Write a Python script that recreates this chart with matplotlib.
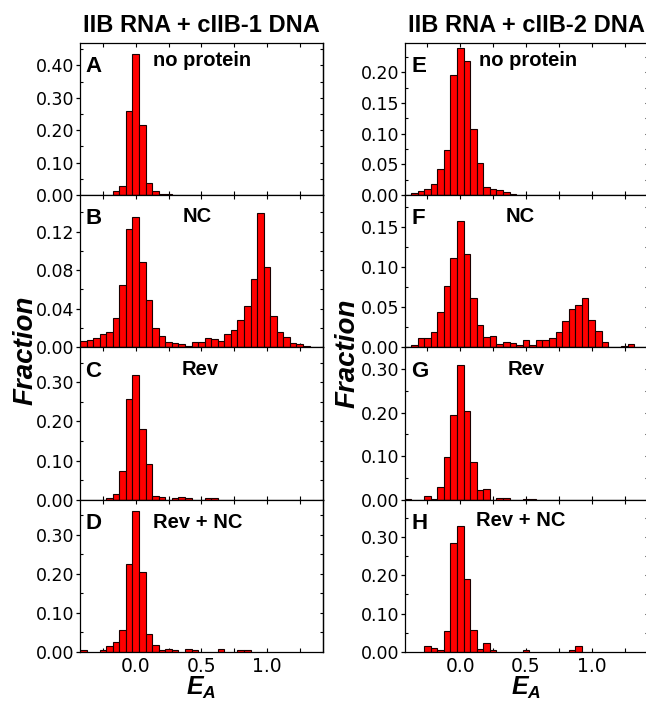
#!/usr/bin/env python3
"""
FRET efficiency histograms (E_A) for two RNA/DNA pairs, four protein
conditions each, stacked in two columns.
"""

import matplotlib

matplotlib.use("Agg")
import matplotlib.pyplot as plt
import matplotlib.ticker as mticker
import numpy as np

# bin centres, 0.05 wide, from -0.40 to 1.35
BIN_CENTERS = np.round(np.arange(-8, 28) * 0.05, 2)

# column 1: IIB RNA + cIIB-1 DNA
FRAC_A = [0, 0, 0, 0, 0, 0.011, 0.028, 0.258, 0.436, 0.215, 0.036, 0.011,
          0.003, 0.002] + [0] * 22
FRAC_B = [0.007, 0.0076, 0.0093, 0.0135, 0.0156, 0.030, 0.065, 0.123, 0.135,
          0.089, 0.049, 0.020, 0.012, 0.006, 0.004, 0.003, 0.0015, 0.006,
          0.006, 0.010, 0.009, 0.007, 0.0135, 0.018, 0.028, 0.043, 0.071,
          0.139, 0.083, 0.032, 0.016, 0.011, 0.0045, 0.003, 0.0015, 0]
FRAC_C = [0, 0, 0, 0, 0.003, 0.015, 0.074, 0.257, 0.320, 0.180, 0.092, 0.010,
          0.007, 0, 0.003, 0.007, 0.003, 0, 0, 0.003, 0.003] + [0] * 15
FRAC_D = [0.004, 0, 0, 0.004, 0.014, 0.026, 0.055, 0.225, 0.361, 0.204,
          0.046, 0.017, 0.005, 0.008, 0.005, 0, 0.008, 0.005, 0, 0, 0,
          0.008, 0, 0, 0.005, 0.005] + [0] * 10

# column 2: IIB RNA + cIIB-2 DNA
FRAC_E = [0, 0.003, 0.006, 0.0098, 0.018, 0.042, 0.073, 0.195, 0.240, 0.218,
          0.107, 0.052, 0.0125, 0.0103, 0.008, 0.0043, 0.002] + [0] * 19
FRAC_F = [0, 0.003, 0.011, 0.011, 0.019, 0.044, 0.076, 0.111, 0.158, 0.117,
          0.062, 0.028, 0.0125, 0.014, 0.004, 0.0067, 0.005, 0.0033, 0.009,
          0.003, 0.0096, 0.0096, 0.012, 0.019, 0.0325, 0.048, 0.053, 0.062,
          0.034, 0.020, 0.0067, 0, 0, 0.002, 0.004, 0]
FRAC_G = [0.002, 0, 0, 0.008, 0.0015, 0.028, 0.098, 0.195, 0.310, 0.204,
          0.087, 0.022, 0.024, 0, 0.004, 0.004, 0, 0, 0.002, 0.002] + [0] * 16
FRAC_H = [0, 0, 0, 0.015, 0.009, 0.004, 0.054, 0.283, 0.328, 0.189, 0.058,
          0.008, 0.022, 0.004, 0, 0, 0, 0, 0.004, 0, 0, 0, 0, 0, 0, 0.004,
          0.015] + [0] * 9

COLUMN_TITLES = ["IIB RNA + cIIB-1 DNA", "IIB RNA + cIIB-2 DNA"]
LETTERS = [["A", "B", "C", "D"], ["E", "F", "G", "H"]]
CONDITIONS = ["no protein", "NC", "Rev", "Rev + NC"]
DATA = [[FRAC_A, FRAC_B, FRAC_C, FRAC_D], [FRAC_E, FRAC_F, FRAC_G, FRAC_H]]
YTOP = [[0.47, 0.158, 0.39, 0.39], [0.248, 0.19, 0.35, 0.397]]
YSTEP = [[0.1, 0.04, 0.1, 0.1], [0.05, 0.05, 0.1, 0.1]]

# (x in data coords, horizontal alignment, y in axes fraction)
LABEL_POS = [
    [(0.13, "left", 0.848), (0.47, "center", 0.826), (0.49, "center", 0.815), (0.13, "left", 0.812)],
    [(0.14, "left", 0.848), (0.455, "center", 0.826), (0.50, "center", 0.815), (0.12, "left", 0.826)],
]

W, H = 646, 702
SANS = ["Liberation Sans", "DejaVu Sans"]

plt.rcParams["font.family"] = SANS
plt.rcParams["mathtext.fontset"] = "custom"
plt.rcParams["mathtext.it"] = "Liberation Sans:italic:bold"
plt.rcParams["mathtext.rm"] = "Liberation Sans:bold"


def draw_panel(ax, col, row):
    heights = np.array(DATA[col][row], dtype=float)
    keep = heights > 0
    ax.bar(BIN_CENTERS[keep], heights[keep], width=0.05, align="center",
           color="#ff0000", edgecolor="#1a0000", linewidth=0.8, zorder=2)

    ax.set_xlim(-0.425, 1.425)
    ax.set_ylim(0, YTOP[col][row])

    step = YSTEP[col][row]
    ax.yaxis.set_major_locator(mticker.MultipleLocator(step))
    ax.yaxis.set_minor_locator(mticker.MultipleLocator(step / 2))
    ax.yaxis.set_major_formatter(mticker.FormatStrFormatter("%.2f"))
    ax.xaxis.set_major_locator(mticker.MultipleLocator(0.5))
    ax.xaxis.set_minor_locator(mticker.MultipleLocator(0.25))
    ax.xaxis.set_major_formatter(mticker.FormatStrFormatter("%.1f"))

    ax.tick_params(axis="y", which="major", direction="out", length=3, width=0.9,
                   pad=1, labelsize=12.5, labelfontfamily="DejaVu Sans")
    ax.tick_params(axis="y", which="minor", direction="in", length=2.5, width=0.8)
    ax.tick_params(axis="x", which="both", direction="in", top=True, length=3.2,
                   width=0.8, pad=4, labelsize=13.5, labelfontfamily="DejaVu Sans")
    if row < 3:
        ax.tick_params(axis="x", labelbottom=False)

    # inward ticks on the right-hand spine
    sec = ax.secondary_yaxis("right")
    sec.yaxis.set_major_locator(mticker.MultipleLocator(step / 2))
    sec.tick_params(direction="in", length=2.5, width=0.8, labelright=False)
    sec.spines["right"].set_linewidth(0.9)

    for sp in ax.spines.values():
        sp.set_linewidth(0.9)

    lx = 0.021 if col == 0 else 0.029
    ax.text(lx, 0.808, LETTERS[col][row], transform=ax.transAxes,
            fontsize=16, fontweight="bold", va="baseline", ha="left")
    tx, ha, ty = LABEL_POS[col][row]
    ax.text(tx, ty, CONDITIONS[row], transform=ax.get_xaxis_transform(),
            fontsize=14.5, fontweight="bold", va="baseline", ha=ha)


def main():
    fig = plt.figure(figsize=(W / 100, H / 100), dpi=100)

    lefts = [80 / W, 404.5 / W]
    widths = [242.7 / W, 243 / W]
    top0, ph = 42.7, 152.3

    for col in range(2):
        for row in range(4):
            bottom = 1 - (top0 + ph * (row + 1)) / H
            ax = fig.add_axes([lefts[col], bottom, widths[col], ph / H])
            draw_panel(ax, col, row)
            if row == 0:
                ax.set_title(COLUMN_TITLES[col], fontsize=17, fontweight="bold", pad=8)
            if row == 3:
                ax.set_xlabel(r"$E_A$", fontsize=18, labelpad=-1)

    fig.text(26 / W, 1 - 350 / H, "Fraction", rotation=90, fontsize=20,
             fontweight="bold", fontstyle="italic", ha="center", va="center")
    fig.text(348 / W, 1 - 353 / H, "Fraction", rotation=90, fontsize=20,
             fontweight="bold", fontstyle="italic", ha="center", va="center")

    fig.savefig("out.png", dpi=100)


if __name__ == "__main__":
    main()
